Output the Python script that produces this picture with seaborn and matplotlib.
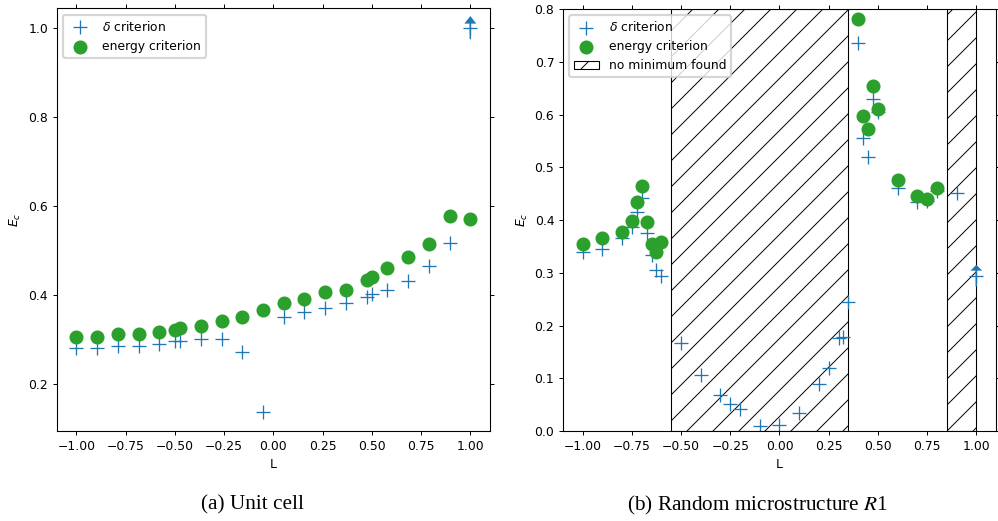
import matplotlib
matplotlib.use("Agg")
import matplotlib.pyplot as plt
import seaborn as sns

# ---- Unit cell data ----
L_unit = [-1.0, -0.895, -0.789, -0.684, -0.579, -0.5, -0.474, -0.368, -0.263,
          -0.158, -0.053, 0.053, 0.158, 0.263, 0.368, 0.474, 0.5, 0.579,
          0.684, 0.789, 0.895, 1.0]
delta_unit = [0.282, 0.282, 0.286, 0.286, 0.291, 0.297, 0.297, 0.302, 0.302,
              0.272, 0.138, 0.351, 0.362, 0.372, 0.383, 0.395, 0.402, 0.411,
              0.431, 0.465, 0.517, 1.0]
energy_unit = [0.307, 0.307, 0.312, 0.312, 0.318, 0.321, 0.327, 0.332, 0.342,
               0.352, 0.367, 0.382, 0.392, 0.407, 0.412, 0.435, 0.440, 0.461,
               0.485, 0.515, 0.578, 0.571]

# ---- Random microstructure R1 data ----
L_r1_delta = [-1.0, -0.9, -0.8, -0.75, -0.725, -0.7, -0.675, -0.65, -0.625,
              -0.6, -0.5, -0.4, -0.3, -0.25, -0.2, -0.1, 0.0, 0.1, 0.2, 0.25,
              0.3, 0.325, 0.35, 0.4, 0.425, 0.45, 0.475, 0.5, 0.6, 0.7, 0.75,
              0.8, 0.9, 1.0]
delta_r1 = [0.339, 0.346, 0.365, 0.387, 0.416, 0.442, 0.375, 0.334, 0.306,
            0.294, 0.166, 0.106, 0.068, 0.052, 0.041, 0.009, 0.012, 0.034,
            0.090, 0.119, 0.176, 0.179, 0.244, 0.735, 0.556, 0.520, 0.629,
            0.605, 0.460, 0.435, 0.437, 0.455, 0.452, 0.294]
L_r1_energy = [-1.0, -0.9, -0.8, -0.75, -0.725, -0.7, -0.675, -0.65, -0.625,
               -0.6, 0.4, 0.425, 0.45, 0.475, 0.5, 0.6, 0.7, 0.75, 0.8]
energy_r1 = [0.355, 0.366, 0.377, 0.399, 0.434, 0.465, 0.396, 0.355, 0.340,
             0.358, 0.781, 0.597, 0.573, 0.655, 0.610, 0.475, 0.445, 0.439,
             0.461]
no_minimum_ranges = [(-0.55, 0.35), (0.85, 1.0)]

# value beyond which the delta criterion is not reached (drawn with an arrow)
capped_unit = (1.0, 1.0)
capped_r1 = (1.0, 0.294)

captions = ["(a) Unit cell", "(b) Random microstructure $R$1"]

BLUE = "#1f77b4"
GREEN = "#2ca02c"
FS = 5.7

# ---- style ----
DPI = 156
sns.set_theme(style="ticks")
plt.rcParams.update({
    "font.family": ["DejaVu Sans"],
    "font.size": FS,
    "xtick.labelsize": FS,
    "ytick.labelsize": FS,
    "axes.labelsize": FS,
    "legend.fontsize": FS,
    "axes.linewidth": 0.5,
    "axes.edgecolor": "black",
    "xtick.major.size": 2.0,
    "ytick.major.size": 2.0,
    "xtick.major.width": 0.45,
    "ytick.major.width": 0.45,
    "xtick.major.pad": 2.0,
    "ytick.major.pad": 2.0,
    "xtick.color": "black",
    "ytick.color": "black",
    "axes.labelcolor": "black",
    "text.color": "black",
    "axes.labelpad": 2.3,
    "hatch.linewidth": 0.45,
    "legend.frameon": True,
    "legend.framealpha": 0.8,
    "legend.edgecolor": "0.8",
})

fig = plt.figure(figsize=(998 / DPI, 521 / DPI), dpi=DPI)
ax_a = fig.add_axes([0.0568, 0.1727, 0.4342, 0.8110])
ax_b = fig.add_axes([0.5641, 0.1727, 0.4339, 0.8100])

plus_kw = dict(marker="+", color=BLUE, s=37, linewidth=0.6)
dot_kw = dict(marker="o", color=GREEN, s=42, linewidth=0)


def capped_arrow(ax, pt, below, above, head_len):
    x, y = pt
    ax.arrow(x, y - below, 0, below + above, width=0.0075, head_width=0.06,
             head_length=head_len, length_includes_head=True, color=BLUE,
             linewidth=0, zorder=3)


def style_axes(ax):
    ax.tick_params(top=True, right=True, direction="out")
    ax.set_xlim(-1.1, 1.1)
    ax.set_xticks([-1.0, -0.75, -0.5, -0.25, 0.0, 0.25, 0.5, 0.75, 1.0])
    ax.set_xlabel("L")
    ax.set_ylabel("$E_c$")
    for sp in ax.spines.values():
        sp.set_visible(True)


# ---- (a) unit cell ----
sns.scatterplot(x=L_unit, y=delta_unit, ax=ax_a, label=r"$\delta$ criterion",
                **plus_kw)
sns.scatterplot(x=L_unit, y=energy_unit, ax=ax_a, label="energy criterion",
                **dot_kw)
capped_arrow(ax_a, capped_unit, 0.025, 0.027, 0.017)
style_axes(ax_a)
ax_a.set_ylim(0.095, 1.044)
ax_a.set_yticks([0.2, 0.4, 0.6, 0.8, 1.0])
ax_a.legend(loc="upper left")

# ---- (b) random microstructure ----
for i, (lo, hi) in enumerate(no_minimum_ranges):
    ax_b.axvspan(lo, hi, fill=False, hatch="//", edgecolor="black",
                 linewidth=0.5, zorder=1,
                 label="no minimum found" if i == 0 else None)
sns.scatterplot(x=L_r1_delta, y=delta_r1, ax=ax_b, label=r"$\delta$ criterion",
                zorder=2, **plus_kw)
sns.scatterplot(x=L_r1_energy, y=energy_r1, ax=ax_b, label="energy criterion",
                zorder=2, **dot_kw)
capped_arrow(ax_b, capped_r1, 0.020, 0.021, 0.011)
style_axes(ax_b)
ax_b.set_ylim(0.0, 0.8)
ax_b.set_yticks([0.0, 0.1, 0.2, 0.3, 0.4, 0.5, 0.6, 0.7, 0.8])
handles, labels = ax_b.get_legend_handles_labels()
order = [labels.index(r"$\delta$ criterion"), labels.index("energy criterion"),
         labels.index("no minimum found")]
ax_b.legend([handles[i] for i in order], [labels[i] for i in order],
            loc="upper left")

# ---- captions ----
fig.text(253 / 998, 1 - 505 / 521, captions[0], family="Liberation Serif",
         size=9.8, ha="center", va="center")
fig.text(757 / 998, 1 - 505 / 521, captions[1], family="Liberation Serif",
         size=9.8, ha="center", va="center", math_fontfamily="stix")

fig.savefig("out.png", dpi=DPI)
